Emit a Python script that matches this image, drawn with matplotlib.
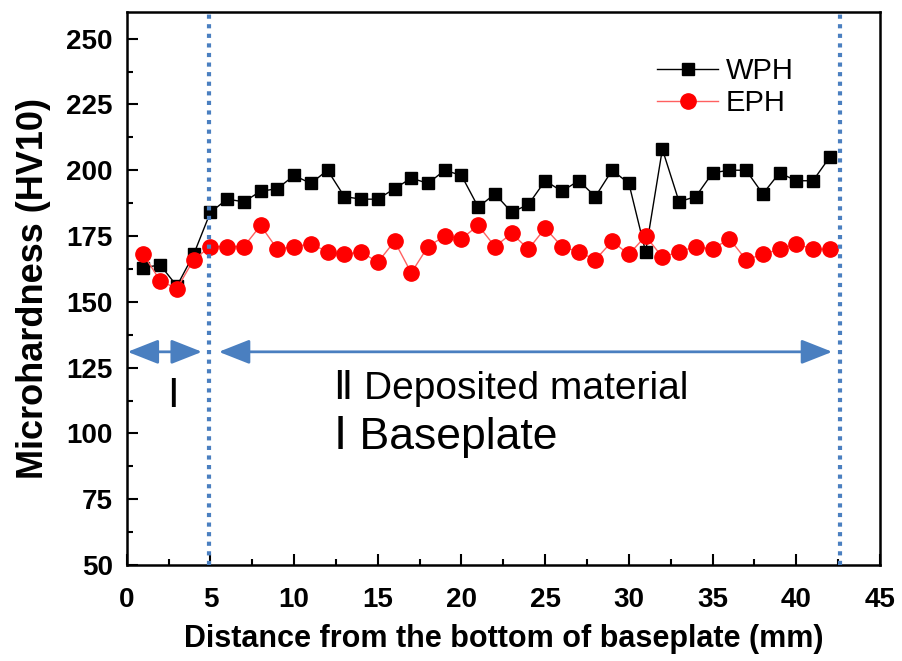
import matplotlib
matplotlib.use("Agg")
import matplotlib.pyplot as plt
from matplotlib.ticker import MultipleLocator

plt.rcParams['font.family'] = ['Liberation Sans', 'DejaVu Sans']

distance = list(range(1, 43))
wph = [163, 164, 156, 168, 184, 189, 188, 192, 193, 198,
       195, 200, 190, 189, 189, 193, 197, 195, 200, 198,
       186, 191, 184, 187, 196, 192, 196, 190, 200, 195,
       169, 208, 188, 190, 199, 200, 200, 191, 199, 196,
       196, 205]
eph = [168, 158, 155, 166, 171, 171, 171, 179, 170, 171,
       172, 169, 168, 169, 165, 173, 161, 171, 175, 174,
       179, 171, 176, 170, 178, 171, 169, 166, 173, 168,
       175, 167, 169, 171, 170, 174, 166, 168, 170, 172,
       170, 170]
boundaries = [4.9, 42.6]
x_ticks = [0, 5, 10, 15, 20, 25, 30, 35, 40, 45]
y_ticks = [50, 75, 100, 125, 150, 175, 200, 225, 250]

fig = plt.figure(figsize=(9.03, 6.61), dpi=100)
ax = fig.add_axes([0.1403, 0.1452, 0.9745 - 0.1403, 0.9814 - 0.1452])

ax.plot(distance, wph, color='black', lw=1.0, marker='s', ms=9,
        mfc='black', mec='black', label='WPH', zorder=3)
ax.plot(distance, eph, color='#ff6060', lw=1.0, marker='o', ms=11,
        mfc='#ff0000', mec='#ff0000', label='EPH', zorder=3)

blue = '#4a7fc0'
for b in boundaries:
    ax.axvline(b, color=blue, lw=3, linestyle=(0, (1, 1.3)), zorder=4)

arrow_y = 131
astyle = '<|-|>,head_length=1.9,head_width=0.75'
ax.annotate('', xy=(0.05, arrow_y), xytext=(4.5, arrow_y),
            arrowprops=dict(arrowstyle=astyle, color=blue, lw=2,
                            shrinkA=0, shrinkB=0))
ax.annotate('', xy=(5.5, arrow_y), xytext=(42.15, arrow_y),
            arrowprops=dict(arrowstyle=astyle, color=blue, lw=2,
                            shrinkA=0, shrinkB=0))

ax.text(2.75, 114, 'Ⅰ', fontsize=28, ha='center', va='center')
ax.text(12.4, 117, 'Ⅱ Deposited material', fontsize=28, ha='left', va='center')
ax.text(12.4, 98.5, 'Ⅰ Baseplate', fontsize=32, ha='left', va='center')

ax.set_xlim(0, 45)
ax.set_ylim(50, 260)
ax.set_xticks(x_ticks)
ax.set_yticks(y_ticks)
ax.xaxis.set_minor_locator(MultipleLocator(2.5))
ax.yaxis.set_minor_locator(MultipleLocator(12.5))
ax.tick_params(which='major', direction='in', length=8, width=1.5,
               labelsize=20, top=False, right=False)
ax.tick_params(axis='x', which='major', pad=16)
ax.tick_params(axis='y', which='major', pad=10)
ax.tick_params(which='minor', direction='in', length=4.5, width=1.5,
               top=False, right=False)
for lab in ax.get_xticklabels() + ax.get_yticklabels():
    lab.set_fontweight('bold')
for sp in ax.spines.values():
    sp.set_linewidth(1.8)

ax.set_xlabel('Distance from the bottom of baseplate (mm)', fontsize=22,
              fontweight='bold', labelpad=8)
ax.set_ylabel('Microhardness (HV10)', fontsize=26, fontweight='bold', labelpad=11)

ax.legend(loc='upper left', bbox_to_anchor=(0.704, 0.919), frameon=False,
          fontsize=21, handlelength=2.1, labelspacing=0.15, handletextpad=0.25,
          borderpad=0, borderaxespad=0)

fig.savefig('out.png', dpi=100)
